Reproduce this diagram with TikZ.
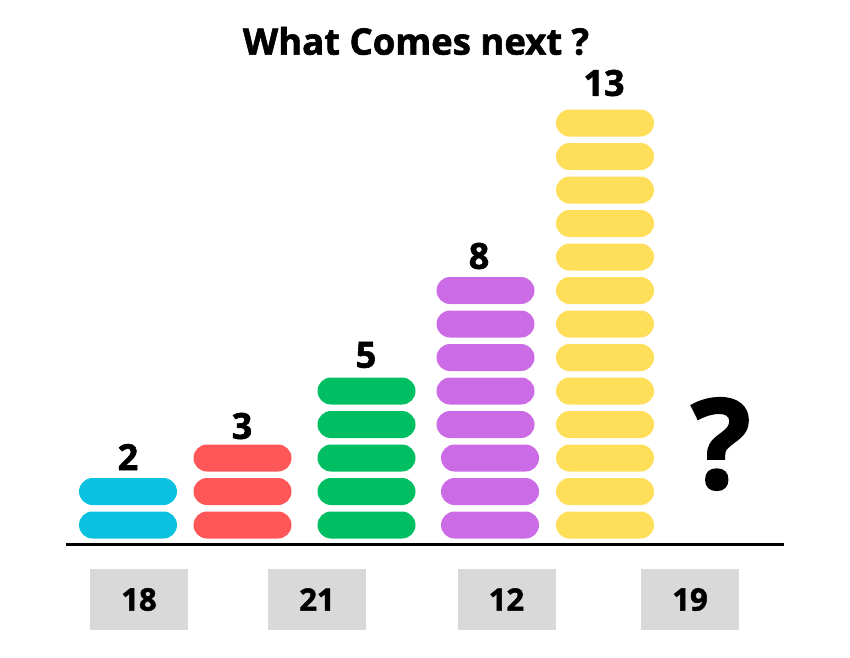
\documentclass[tikz,border=0pt]{standalone}
\usepackage{fontspec}
\setmainfont{Open Sans}[BoldFeatures={FakeBold=1.6}]
\usetikzlibrary{positioning}

\definecolor{pillblue}{HTML}{0CC0DF}
\definecolor{pillred}{HTML}{FF5757}
\definecolor{pillgreen}{HTML}{00BF63}
\definecolor{pillpurple}{HTML}{CB6CE6}
\definecolor{pillyellow}{HTML}{FFDE59}
\definecolor{boxgray}{HTML}{D9D9D9}

\tikzset{
  pill/.style={rectangle, rounded corners=13.5pt, minimum width=98pt, minimum height=27pt, inner sep=0pt},
  count/.style={inner sep=0pt, font=\fontsize{36}{36}\selectfont\bfseries},
  answer/.style={rectangle, fill=boxgray, minimum width=98pt, minimum height=61pt, inner sep=0pt, font=\fontsize{31}{31}\selectfont\bfseries}
}

\begin{document}
\begin{tikzpicture}[x=1pt,y=-1pt]
\useasboundingbox (0,0) rectangle (850,657);

% Title
\node[inner sep=0pt, font=\fontsize{36.5}{36.5}\selectfont\bfseries] (title) at (416,41) {What Comes next ?};

% Stacks of pills
\foreach \i in {0,1} \node[pill, fill=pillblue] (blue\i) at (128,{525-33.5*\i}) {};
\foreach \i in {0,...,2} \node[pill, fill=pillred] (red\i) at (242.5,{525-33.5*\i}) {};
\foreach \i in {0,...,4} \node[pill, fill=pillgreen] (green\i) at (366.5,{525-33.5*\i}) {};
\foreach \i in {0,...,2} \node[pill, fill=pillpurple] (purple\i) at (490,{525-33.5*\i}) {};
\foreach \i in {3,...,7} \node[pill, fill=pillpurple] (purple\i) at (485.5,{525-33.5*\i}) {};
\foreach \i in {0,...,12} \node[pill, fill=pillyellow] (yellow\i) at (605,{525-33.5*\i}) {};

% Counts
\node[count] (cblue) at (128,457) {2};
\node[count] (cred) at (242,426) {3};
\node[count] (cgreen) at (366,355) {5};
\node[count] (cpurple) at (479,256) {8};
\node[count] (cyellow) at (604,83) {13};

% Question mark
\node[inner sep=0pt, font=\fontsize{125}{125}\selectfont\bfseries] (query) at (721,444) {?};

% Ground line
\coordinate (groundL) at (66,544);
\coordinate (groundR) at (784,544);
\draw[line width=3pt] (groundL) -- (groundR);

% Answer boxes
\node[answer] (ans1) at (139,599.5) {18};
\node[answer] (ans2) at (317,599.5) {21};
\node[answer] (ans3) at (506.5,599.5) {12};
\node[answer] (ans4) at (690,599.5) {19};

\end{tikzpicture}
\end{document}
